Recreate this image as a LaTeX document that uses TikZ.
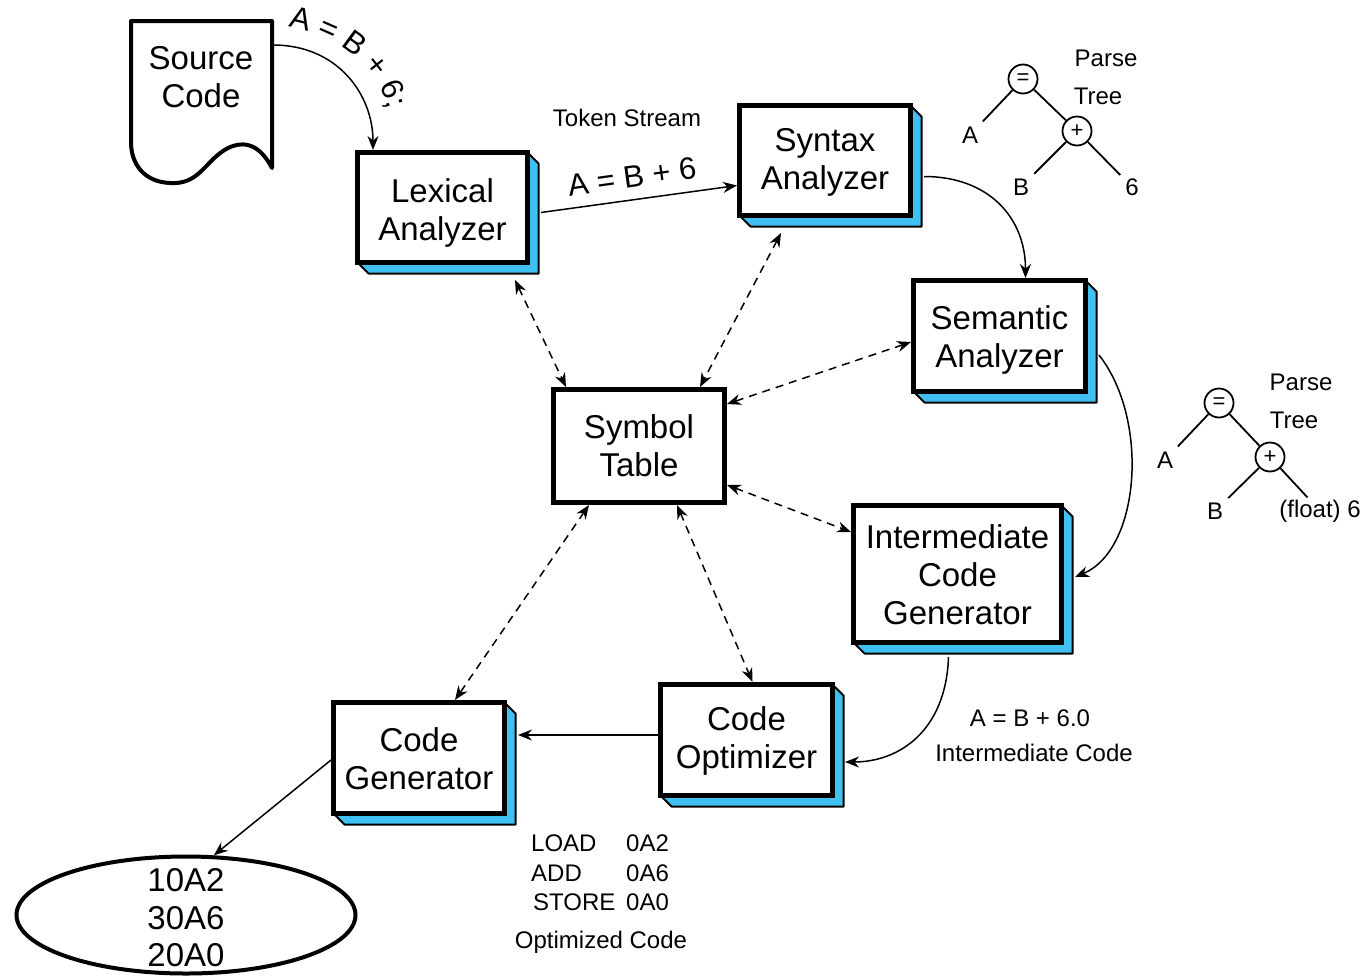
\documentclass[tikz,border=0pt]{standalone}
\usepackage{fontspec}
\setmainfont{Liberation Sans}
\usetikzlibrary{arrows.meta,shapes.geometric,calc,decorations.text}
\definecolor{shcyan}{RGB}{64,192,240}
\tikzset{
  box/.style={draw, line width=5pt, fill=white, inner sep=0pt},
  boxtext/.style={align=center, inner sep=0pt, font=\fontsize{33}{38}\selectfont},
  shad/.style={fill=shcyan, draw, line width=2pt, line join=round},
  lbl/.style={font=\fontsize{24}{28}\selectfont, inner sep=0pt},
  big/.style={font=\fontsize{31}{35}\selectfont, inner sep=0pt},
  arr/.style={-{Stealth[length=14pt,width=11pt]}, line width=1.5pt},
  darr/.style={{Stealth[length=14pt,width=11pt]}-{Stealth[length=14pt,width=11pt]}, line width=1.5pt, dash pattern=on 8pt off 6pt},
  tree/.style={line width=1.8pt},
  tcirc/.style={draw, circle, line width=1.8pt, minimum size=29pt, inner sep=0pt, font=\fontsize{22}{24}\selectfont},
}
\newcommand\tdbox[7]{%
  \filldraw[shad] (#4,#3) -- ++(11,11) -- ({#4+11},{#5+11}) -- ({#2+11},{#5+11}) -- (#2,#5) -- cycle;
  \node[box, minimum width={(#4-#2)*1pt}, minimum height={(#5-#3)*1pt}] (#1) at ({(#2+#4)/2},{(#3+#5)/2}) {};
  \node[boxtext] (#1t) at ([yshift=-#7pt]#1.center) {#6};}
\begin{document}
\begin{tikzpicture}[x=1pt,y=-1pt]
\useasboundingbox (0,0) rectangle (1367,977);
% source code document
\draw[line width=4pt, line join=round] (131,21) -- (272,21) -- (272,168)
  .. controls (260,145) and (245,140) .. (228,148)
  .. controls (205,160) and (200,185) .. (170,183)
  .. controls (145,182) and (131,165) .. (131,142) -- cycle;
\node[boxtext] (src) at (201,77) {Source\\Code};
\coordinate (srcout) at (273,45);
% boxes
\tdbox{lex}{357.5}{152.5}{527.5}{262.5}{Lexical\\Analyzer}{5}
\tdbox{syn}{739.5}{105.5}{910.5}{215.5}{Syntax\\Analyzer}{1.5}
\tdbox{sem}{913.5}{280.5}{1085.5}{391.5}{Semantic\\Analyzer}{4}
\tdbox{icg}{853.5}{505.5}{1061.5}{642.5}{Intermediate\\Code\\Generator}{0.5}
\tdbox{opt}{660.5}{684.5}{832.5}{795.5}{Code\\Optimizer}{0.5}
\tdbox{cg}{333.5}{702.5}{504.5}{813.5}{Code\\Generator}{0.5}
\node[box, minimum width=171pt, minimum height=113pt] (sym) at (639,446) {};
\node[boxtext] (symt) at (sym.center) {Symbol\\Table};
% ellipse
\node[draw, ellipse, line width=4pt, minimum width=339pt, minimum height=117pt] (ell) at (186,915) {};
\node[font=\fontsize{33}{37.5}\selectfont, align=center, inner sep=0pt] (elltext) at (186,918) {10A2\\30A6\\20A0};
% curved label along the arrow
\path[decorate, decoration={text along path, text align=left,
  text={|\fontsize{31}{35}\selectfont|A = B + 6;}}]
  (288,27) .. controls (345,38) and (382,70) .. (391,122);
% solid arrows
\draw[arr] (srcout) .. controls +(65,0) and +(0,-55) .. ([xshift=18pt]lex.north west);
\draw[arr] ($(lex.east)+(11,5)$) -- ([yshift=-25pt]syn.west);
\draw[arr] ($(syn.east)+(11,16)$) .. controls +(65,0) and +(0,-60) .. ([xshift=26pt]sem.north);
\draw[arr] ($(sem.east)+(11,19)$) .. controls (1150,420) and (1140,550) .. ($(icg.east)+(11,3)$);
\draw[arr] ($(icg.south)+(-9,12)$) .. controls (946,730) and (900,762) .. ($(opt.east)+(10,22)$);
\draw[arr] ([yshift=5pt]opt.west) -- ($(cg.east)+(11,-23)$);
\draw[arr] ([yshift=-2pt]cg.west) -- (ell.65);
% dashed double arrows
\draw[darr] ([xshift=-15pt,yshift=-15pt]lex.south east) -- ([xshift=15pt]sym.north west);
\draw[darr] ([xshift=-44pt,yshift=-15pt]syn.south) -- ([xshift=-27pt]sym.north east);
\draw[darr] ([yshift=-6pt]sem.west) -- ([yshift=42pt]sym.east);
\draw[darr] ([yshift=-39pt]sym.east) -- ([yshift=42pt]icg.west);
\draw[darr] ([xshift=38pt]sym.south) -- ([xshift=6pt]opt.north);
\draw[darr] ([xshift=-50pt]sym.south) -- ([xshift=36pt]cg.north);
% labels
\node[lbl] (tok) at (627,118) {Token Stream};
\node[big, rotate=8] (tokex) at (632,177) {A = B + 6};
\node[lbl] (icex) at (1030,718) {A = B + 6.0};
\node[lbl] (iclbl) at (1034,753) {Intermediate Code};
\node[lbl, anchor=west] (l1) at (531,843) {LOAD};
\node[lbl, anchor=west] (l1b) at (626,843) {0A2};
\node[lbl, anchor=west] (l2) at (531,873) {ADD};
\node[lbl, anchor=west] (l2b) at (626,873) {0A6};
\node[lbl, anchor=west] (l3) at (533,902) {STORE};
\node[lbl, anchor=west] (l3b) at (626,902) {0A0};
\node[lbl] (optlbl) at (601,942) {Optimized Code};
% parse tree 1
\node[tcirc] (eq1) at (1023,79) {=};
\node[tcirc] (pl1) at (1077,131) {+};
\node[lbl] (a1) at (970,135) {A};
\node[lbl] (b1) at (1021,187) {B};
\node[lbl] (s1) at (1132,187) {6};
\node[lbl] (p1) at (1106,58) {Parse};
\node[lbl] (t1) at (1098,96) {Tree};
\draw[tree, shorten >=7pt] (eq1) -- (a1);
\draw[tree] (eq1) -- (pl1);
\draw[tree, shorten >=7pt] (pl1) -- (b1);
\draw[tree, shorten >=7pt] (pl1) -- (s1);
% parse tree 2
\node[tcirc] (eq2) at (1219,403) {=};
\node[tcirc] (pl2) at (1270,457) {+};
\node[lbl] (a2) at (1165,460) {A};
\node[lbl] (b2) at (1215,511) {B};
\node[lbl] (f2) at (1320,511) {(float) 6};
\node[lbl] (p2) at (1301,382) {Parse};
\node[lbl] (t2) at (1294,420) {Tree};
\draw[tree, shorten >=7pt] (eq2) -- (a2);
\draw[tree] (eq2) -- (pl2);
\draw[tree, shorten >=7pt] (pl2) -- (b2);
\draw[tree, shorten >=3pt] (pl2) -- (f2);
\end{tikzpicture}
\end{document}
